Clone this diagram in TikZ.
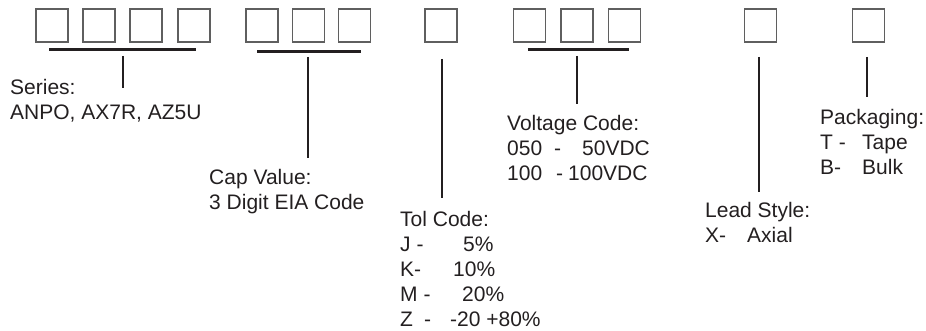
\documentclass[tikz,border=0pt]{standalone}
\usepackage{fontspec}
\setmainfont{Liberation Sans}
\usetikzlibrary{calc}
\definecolor{inkgray}{RGB}{35,31,32}
\definecolor{boxgray}{RGB}{95,95,95}

\begin{document}
\begin{tikzpicture}[x=1pt,y=-1pt,
  partbox/.style={draw=boxgray,line width=1.1pt,minimum width=32pt,minimum height=33pt,inner sep=0pt},
  bar/.style={draw=inkgray,line width=3pt},
  stem/.style={draw=inkgray,line width=2.6pt},
  lbl/.style={text=inkgray,anchor=base west,inner sep=0pt,align=left,font=\fontsize{21}{25}\selectfont}]
  \def\yb{25.5}
  \useasboundingbox (0,0) rectangle (926,331);

  % ===== code boxes =====
  \foreach \n/\x in {s1/52,s2/99,s3/146,s4/194,c1/262,c2/308.5,c3/354.5,t1/441,v1/529.5,v2/577,v3/624.5,l1/760.5,p1/868.5}
    \node[partbox] (\n) at (\x,\yb) {};

  % ===== bars under the grouped boxes =====
  \draw[bar] ($(s1.south west)+(14,7)$) -- ($(s4.south east)+(-15,7)$);
  \draw[bar] ($(c1.south west)+(12,9)$) -- ($(c3.south east)+(-10,9)$);
  \draw[bar] ($(v1.south west)+(15,7)$) -- ($(v3.south east)+(-12,7)$);

  % ===== field labels (placed at the baseline of their last line) =====
  \node[lbl] (ser) at (10,120) {Series:\\ANPO, AX7R, AZ5U};
  \node[lbl] (cap) at (209,210) {Cap Value:\\3 Digit EIA Code};
  \node[lbl] (tol) at (400,326) {Tol Code:\\\makebox[63pt][l]{J -}5\%\\\makebox[53pt][l]{K-}10\%\\\makebox[62pt][l]{M -}20\%\\\makebox[50pt][l]{Z\hspace{11pt}-}-20 +80\%};
  \node[lbl] (vol) at (507,181) {Voltage Code:\\\makebox[47pt][l]{050}\makebox[28pt][l]{-}50VDC\\\makebox[49pt][l]{100}\makebox[12pt][l]{-}100VDC};
  \node[lbl] (led) at (705,243) {Lead Style:\\\makebox[42pt][l]{X-}Axial};
  \node[lbl] (pkg) at (820,175) {Packaging:\\\makebox[42pt][l]{T -}Tape\\\makebox[42pt][l]{B-}Bulk};

  % ===== stems (bar or box down to label) =====
  \coordinate (ser-a) at (123,56);   \coordinate (ser-b) at (123,88);
  \coordinate (cap-a) at (308,57);   \coordinate (cap-b) at (308,158);
  \coordinate (tol-a) at (442,59);   \coordinate (tol-b) at (442,198);
  \coordinate (vol-a) at (577,56);   \coordinate (vol-b) at (577,104);
  \coordinate (led-a) at (759,57);   \coordinate (led-b) at (759,192);
  \coordinate (pkg-a) at (867,57);   \coordinate (pkg-b) at (867,97);
  \foreach \f in {ser,cap,tol,vol,led,pkg}
    \draw[stem] (\f-a) -- (\f-b);
\end{tikzpicture}
\end{document}
